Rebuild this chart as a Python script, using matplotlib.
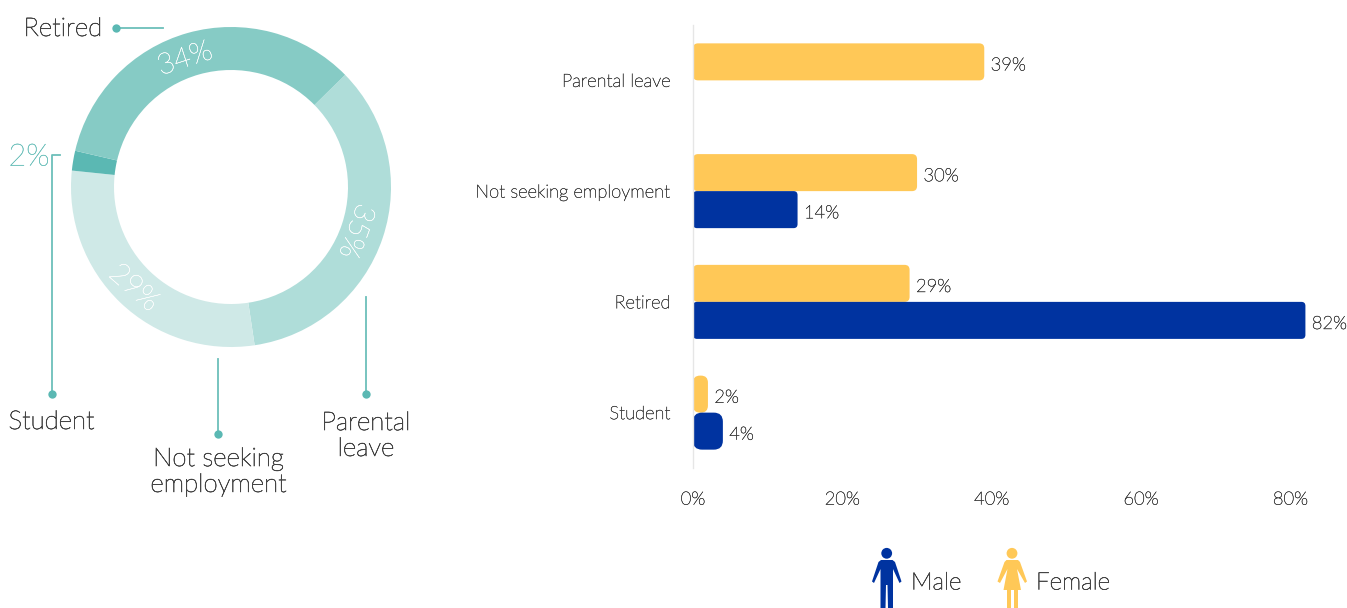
import matplotlib
matplotlib.use("Agg")
import matplotlib.pyplot as plt
import matplotlib.patheffects as pe
from matplotlib.patches import FancyBboxPatch, Polygon, Circle

# Data
share_labels = ["Parental leave", "Not seeking employment", "Student", "Retired"]
share_values = [35, 29, 2, 34]
share_colors = ["#AFDDD9", "#CFE9E7", "#5BB8B3", "#86CBC5"]

categories = ["Parental leave", "Not seeking employment", "Retired", "Student"]
female = [39, 30, 29, 2]
male = [None, 14, 82, 4]
x_ticks = [0, 20, 40, 60, 80]

TEAL = "#6CBFBA"
DOT = "#5BB8B3"
TEXT = "#444444"
YELLOW = "#FFC857"
BLUE = "#0033A0"
W, H = 1347, 608
plt.rcParams["font.family"] = ["Lato", "DejaVu Sans"]
plt.rcParams["font.weight"] = "light"

fig = plt.figure(figsize=(W / 100, H / 100), dpi=100, facecolor="white")


def px_axes(x0, y0, x1, y1):
    return fig.add_axes([x0 / W, 1 - y1 / H, (x1 - x0) / W, (y1 - y0) / H])


def thicken(artist, color, width=0.45):
    # Lato Light is a touch thin at these sizes, so give the outlines a hairline stroke
    artist.set_path_effects([pe.withStroke(linewidth=width, foreground=color)])
    return artist


# Overlay in pixel units for callouts and legend figures
over = fig.add_axes([0, 0, 1, 1], zorder=5)
over.set_xlim(0, W)
over.set_ylim(H, 0)
over.axis("off")

# Donut
pie_ax = px_axes(71, 27, 391, 347)
pie_ax.pie(share_values, colors=share_colors, startangle=44.5, counterclock=False,
           radius=1.0, wedgeprops=dict(width=43 / 160, linewidth=0))
pie_ax.set_xlim(-1, 1)
pie_ax.set_ylim(-1, 1)

ring_text = [("34%", 185, 59, 18), ("35%", 356, 231, -110), ("29%", 134, 288, -41)]
for s, x, y, rot in ring_text:
    thicken(over.text(x, y, s, color="white", fontsize=21, rotation=rot,
                      ha="center", va="center", rotation_mode="anchor"), "white", 0.25)

# Callouts
over.plot([116, 163], [28, 28], color=TEAL, lw=1.3)
over.plot([116], [28], "o", color=DOT, ms=6, mew=0)
over.plot([60, 51.5, 51.5], [155, 155, 393], color=TEAL, lw=1.3)
over.plot([51.5], [393.5], "o", color=DOT, ms=6, mew=0)
over.plot([218, 218], [359, 433], color=TEAL, lw=1.3)
over.plot([218], [433.5], "o", color=DOT, ms=6, mew=0)
over.plot([366, 366], [297, 393], color=TEAL, lw=1.3)
over.plot([366], [393.5], "o", color=DOT, ms=6, mew=0)

thicken(over.text(29, 157, "2%", color="#6CC0BB", fontsize=22, ha="center", va="center"), "#6CC0BB", 0.3)
big = dict(color=TEXT, fontsize=18.6, ha="center", va="center")
thicken(over.text(63, 29, "Retired", **big), TEXT)
thicken(over.text(51.5, 422, "Student", **big), TEXT)
thicken(over.text(218.5, 472, "Not seeking\nemployment", linespacing=1.1, **big), TEXT)
thicken(over.text(366, 436, "Parental\nleave", linespacing=1.1, **big), TEXT)

# Horizontal bars
ax = px_axes(693, 25, 1343.5, 468)
ax.set_xlim(0, 87.1)
ax.set_ylim(3.5, -0.5)
bar_h = 37 / 110.7
aspect = (650.5 / 87.1) / 110.7


def rounded_bar(value, top, color, radius):
    r = radius / 7.47
    box = FancyBboxPatch((r, top + r * aspect), value - 2 * r, bar_h - 2 * r * aspect,
                         boxstyle=f"round,pad={r},rounding_size={r}",
                         mutation_aspect=aspect, fc=color, ec="none", clip_on=False)
    ax.add_patch(box)
    thicken(ax.annotate(f"{value}%", (value, top + bar_h / 2), xytext=(4.6, -2.6),
                        textcoords="offset points", va="center", ha="left",
                        fontsize=13.2, color="#3F3F3F", annotation_clip=False), "#3F3F3F", 0.3)


for i, (f, m) in enumerate(zip(female, male)):
    rounded_bar(f, i - bar_h, YELLOW, 7 if f < 3 else 5)
    if m is not None:
        rounded_bar(m, i, BLUE, 9 if m < 5 else 4)

for side in ("top", "right", "bottom"):
    ax.spines[side].set_visible(False)
ax.spines["left"].set_color("#E6E6E6")
ax.spines["left"].set_linewidth(1)
ax.set_yticks(range(len(categories)), categories)
ax.set_xticks(x_ticks, [f"{t}%" for t in x_ticks])
ax.tick_params(axis="both", length=0, labelsize=13.2, labelcolor="#3F3F3F")
ax.tick_params(axis="y", pad=16)
ax.tick_params(axis="x", pad=17)
ax.patch.set_alpha(0)
for lab in ax.get_xticklabels() + ax.get_yticklabels():
    thicken(lab, "#3F3F3F", 0.3)

# Legend figures
over.add_patch(Circle((886.7, 553.3), 5.4, fc=BLUE, ec="none"))
over.add_patch(Polygon([(881, 560), (892.5, 560), (895, 562), (901.5, 581.5), (899.5, 583),
                        (893, 569), (893, 608), (888, 608), (887.5, 585), (886, 585),
                        (885.5, 608), (880.5, 608), (880.5, 569), (874, 583), (872, 581.5),
                        (878.5, 562)], fc=BLUE, ec="none"))
over.add_patch(Circle((1012, 553.3), 5.4, fc=YELLOW, ec="none"))
over.add_patch(Polygon([(1006.5, 560), (1018, 560), (1020, 562), (1027, 581.5), (1025, 583),
                        (1017, 569), (1021, 590), (1018, 590), (1018, 608), (1014, 608),
                        (1014, 590), (1011, 590), (1011, 608), (1007, 608), (1007, 590),
                        (1003.5, 590), (1007.5, 569), (1000, 583), (997.5, 581.5),
                        (1004.5, 562)], fc=YELLOW, ec="none"))
thicken(over.text(911, 583, "Male", color=TEXT, fontsize=17.4, ha="left", va="center"), TEXT)
thicken(over.text(1036, 583, "Female", color=TEXT, fontsize=17.4, ha="left", va="center"), TEXT)

fig.savefig("out.png", dpi=100, facecolor="white")
